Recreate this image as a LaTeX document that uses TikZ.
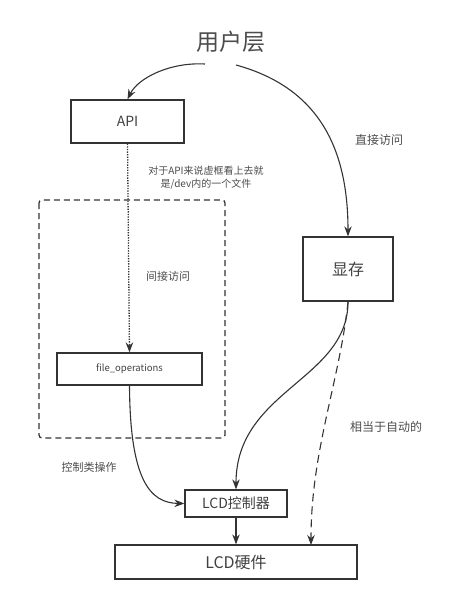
\documentclass[tikz,border=0pt]{standalone}
\usepackage{fontspec}
\setmainfont{Noto Sans CJK SC}
\usetikzlibrary{arrows.meta}
\begin{document}
\begin{tikzpicture}[x=1pt,y=-1pt,
  box/.style={draw=black!80,line width=1.3pt,minimum height=#1,inner sep=0pt,text=black!75},
  conn/.style={draw=black!80,line width=1.1pt,-{Stealth[length=10pt,width=7.5pt]}},
  lbl/.style={text=black!70,inner sep=0pt}]
\useasboundingbox (0,0) rectangle (451,592);
\node[lbl,font=\fontsize{23}{25}\selectfont] (user) at (231,42) {用户层};
\node[box=43pt,minimum width=113pt,font=\fontsize{14}{16}\selectfont] (api) at (127.5,121.5) {API};
\node[box=64pt,minimum width=90pt,font=\fontsize{16}{18}\selectfont] (vram) at (348,269) {显存};
\node[box=32pt,minimum width=145pt,font=\fontsize{9.5}{11}\selectfont] (fops) at (129.5,369) {file\_operations};
\node[box=27pt,minimum width=102pt,font=\fontsize{14}{16}\selectfont] (ctrl) at (236,503.5) {LCD控制器};
\node[box=34pt,minimum width=242pt,font=\fontsize{16}{18}\selectfont] (hw) at (236,562) {LCD硬件};
\draw[draw=black!80,line width=1.3pt,dash pattern=on 6pt off 4pt,rounded corners=3pt] (39,200) rectangle (225,438);
\node[lbl,font=\fontsize{10}{13}\selectfont,align=center] (note) at (206,177.5) {对于API来说虚框看上去就\\是/dev内的一个文件};
\node[lbl,font=\fontsize{12}{14}\selectfont] (direct) at (379,140) {直接访问};
\node[lbl,font=\fontsize{11}{13}\selectfont] (indirect) at (168,276) {间接访问};
\node[lbl,font=\fontsize{11}{13}\selectfont] (ctrlop) at (89,467) {控制类操作};
\node[lbl,font=\fontsize{12}{14}\selectfont] (auto) at (386,427) {相当于自动的};
\coordinate (u1) at (205,64);
\coordinate (u2) at (236,65);
\draw[conn] (u1) .. controls (170,62) and (138,78) .. (api.north);
\draw[conn] (u2) .. controls (320,88) and (348,150) .. (vram.north);
\draw[conn,line width=1.3pt,dash pattern=on 1.3pt off 1.3pt] (api.south) -- (fops.north);
\draw[conn] (fops.south) .. controls (130,480) and (150,503) .. (ctrl.west);
\draw[conn] (vram.south) .. controls (348,380) and (236,390) .. (ctrl.north);
\draw[conn,dash pattern=on 8pt off 5pt] (vram.south) .. controls (340,380) and (311,450) .. (311,545);
\draw[conn] (ctrl.south) -- (hw.north);
\end{tikzpicture}
\end{document}
